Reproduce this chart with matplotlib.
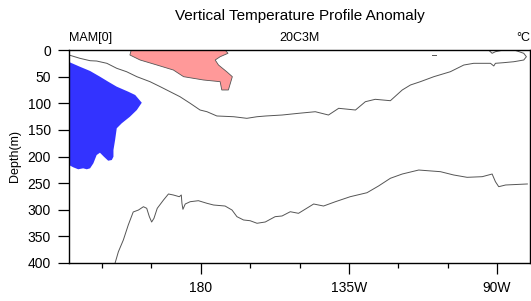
import numpy as np
import matplotlib.pyplot as plt

plt.rcParams['font.family'] = ['Liberation Sans', 'DejaVu Sans']

# longitude in 0-360 degrees east, depth in metres
cold_lon = [140.0, 143.3, 146.4, 149.4, 151.9, 154.5, 158.0, 160.1, 162.1, 160.6,
            158.5, 156.0, 154.5, 154.0, 153.5, 153.5, 153.0, 151.9, 150.6, 149.4,
            148.4, 147.4, 146.4, 145.4, 144.3, 142.8, 141.3, 140.0]
cold_dep = [22.5, 31.4, 39.4, 50.1, 59.5, 68.9, 78.3, 84.5, 99.0, 112.7,
            125.3, 137.7, 147.0, 169.0, 187.8, 200.4, 206.6, 207.9, 200.4, 192.9,
            197.2, 212.8, 222.2, 224.0, 222.2, 224.0, 220.3, 216.0]

warm_lon = [158.9, 158.5, 161.6, 166.7, 171.7, 174.8, 180.8, 185.9, 186.4, 188.4,
            189.6, 187.9, 185.4, 184.4, 185.9, 188.3, 187.4]
warm_dep = [0.0, 9.4, 18.8, 28.2, 37.6, 50.1, 56.3, 59.5, 75.1, 75.1,
            50.1, 40.8, 28.2, 18.8, 12.6, 6.2, 0.0]

upper_lon = [140.0, 143.3, 146.4, 148.4, 151.5, 154.5, 157.5, 160.6, 164.6, 167.7,
             170.7, 173.7, 176.8, 179.8, 181.9, 184.9, 190.0, 194.0, 197.1, 199.8,
             204.7, 209.7, 214.8, 218.8, 221.9, 227.0, 230.0, 233.0, 237.6, 241.2,
             243.7, 246.7, 250.8, 255.8, 259.9, 262.9, 268.0, 269.0, 269.5, 272.0,
             275.1, 278.1, 278.9, 278.1, 276.1, 275.1]
upper_dep = [9.4, 15.6, 20.1, 20.7, 25.0, 34.4, 40.8, 50.1, 59.5, 68.9,
             78.3, 87.7, 100.1, 112.7, 115.9, 123.9, 125.3, 128.3, 125.3, 123.9,
             122.1, 118.9, 115.9, 122.1, 109.5, 112.7, 97.1, 92.6, 95.2, 75.1,
             65.7, 59.5, 50.1, 40.8, 28.2, 25.0, 25.0, 30.0, 25.0, 23.8,
             22.0, 18.8, 12.6, 6.2, 1.9, 0.0]

bump_lon = [267.4, 268.5, 269.5, 272.0]
bump_dep = [0.0, 6.2, 3.2, 0.0]

dash_lon = [250.1, 251.6]
dash_dep = [9.4, 9.4]

lower_lon = [154.0, 155.0, 156.5, 158.0, 159.5, 161.1, 162.6, 163.6, 164.4, 165.1,
             165.8, 166.8, 168.7, 170.2, 171.7, 173.5, 174.1, 174.3, 174.6, 175.3,
             176.8, 179.3, 181.9, 183.9, 187.4, 189.5, 191.0, 193.0, 195.0, 197.1,
             199.6, 202.6, 204.7, 207.2, 209.7, 214.3, 217.3, 220.9, 225.4, 230.5,
             234.0, 237.6, 241.2, 246.2, 252.8, 256.8, 260.9, 265.5, 268.5, 269.5,
             270.5, 272.6, 279.2]
lower_dep = [400.0, 378.8, 356.8, 328.6, 304.2, 300.5, 294.3, 297.3, 313.0, 323.0,
             316.1, 297.3, 281.7, 270.4, 272.3, 275.5, 272.3, 287.9, 299.2, 289.2,
             284.9, 283.0, 287.9, 291.1, 293.0, 300.5, 313.0, 319.2, 320.6, 325.4,
             323.0, 313.0, 311.7, 303.7, 306.7, 289.2, 293.0, 284.9, 275.5, 268.0,
             255.4, 240.9, 232.9, 225.4, 228.5, 234.7, 239.1, 237.9, 232.9, 247.3,
             256.7, 253.5, 251.6]

xticks = [180, 225, 270]
xticklabels = ['180', '135W', '90W']
xminor = [150, 165, 195, 210, 240, 255]
yticks = [0, 50, 100, 150, 200, 250, 300, 350, 400]

fig = plt.figure(figsize=(5.31, 3.01), dpi=100)
ax = fig.add_axes([69 / 531, 1 - 263 / 301, 461 / 531, 213 / 301])

ax.fill(cold_lon, cold_dep, color='#3333FF', lw=0)
ax.fill(warm_lon, warm_dep, color='#FF9999', lw=0.6, ec='#555555')
line_kw = dict(color='#555555', lw=0.7)
ax.plot(upper_lon, upper_dep, **line_kw)
ax.plot(bump_lon, bump_dep, **line_kw)
ax.plot(dash_lon, dash_dep, **line_kw)
ax.plot(lower_lon, lower_dep, **line_kw)

ax.set_xlim(140, 280)
ax.set_ylim(400, 0)
ax.set_xticks(xticks)
ax.set_xticklabels(xticklabels)
ax.set_xticks(xminor, minor=True)
ax.set_yticks(yticks)
ax.tick_params(axis='both', which='major', length=8, width=0.9, labelsize=10, pad=5)
ax.tick_params(axis='x', which='minor', length=3.5, width=0.9)
ax.tick_params(top=False, right=False)
for s in ax.spines.values():
    s.set_linewidth(1.0)

ax.set_ylabel('Depth(m)', fontsize=9, labelpad=5)
ax.text(0, 1.03, 'MAM[0]', transform=ax.transAxes, ha='left', va='bottom', fontsize=9)
ax.text(0.5, 1.03, '20C3M', transform=ax.transAxes, ha='center', va='bottom', fontsize=9)
ax.text(1, 1.03, '°C', transform=ax.transAxes, ha='right', va='bottom', fontsize=9)
fig.text(ax.get_position().x0 + ax.get_position().width / 2, 0.947,
         'Vertical Temperature Profile Anomaly', ha='center', va='center', fontsize=11)

fig.savefig('out.png', dpi=100)
